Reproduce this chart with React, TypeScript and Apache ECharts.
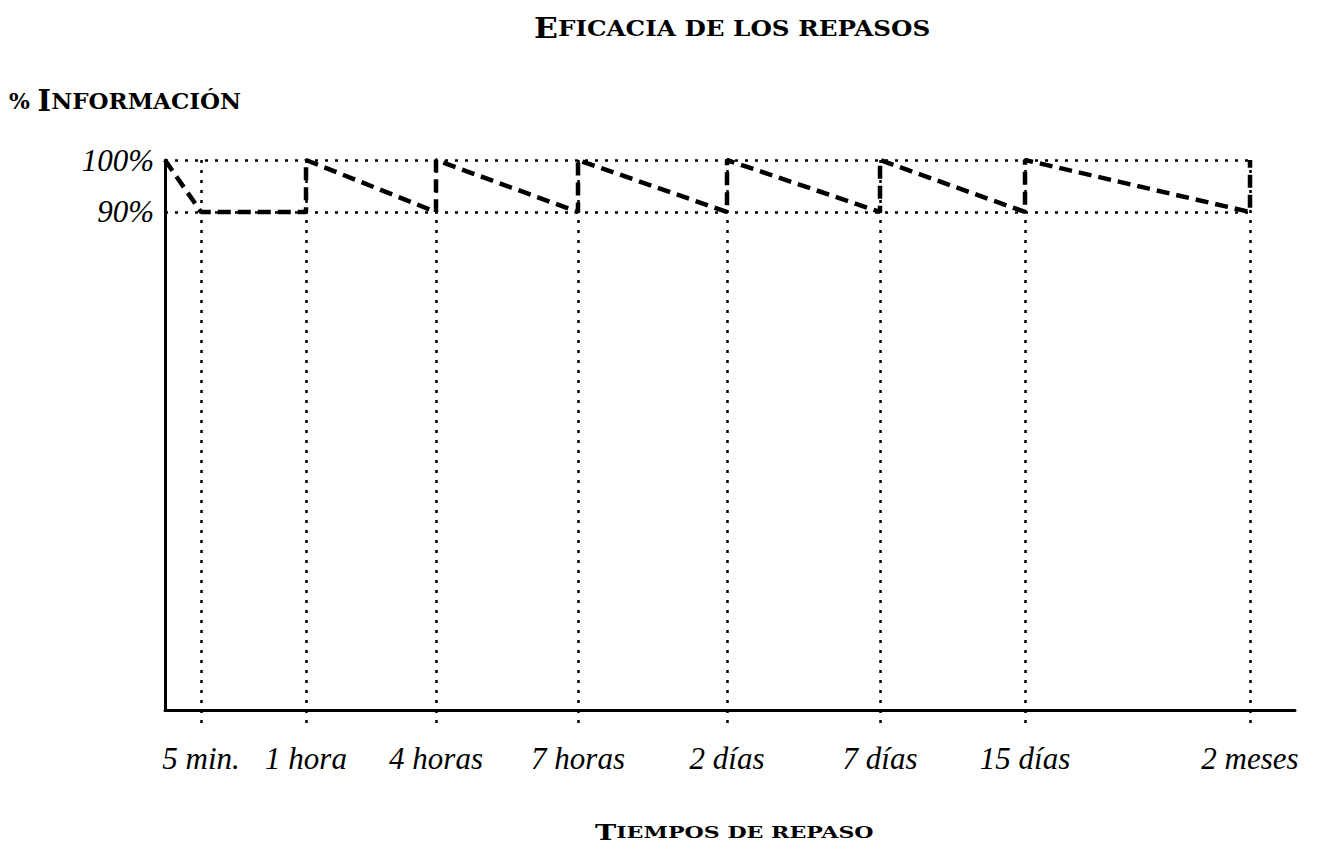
import React, { useEffect, useRef } from "react";
import * as echarts from "echarts";

// ---- data ----
const timeLabels = ["5 min.", "1 hora", "4 horas", "7 horas", "2 días", "7 días", "15 días", "2 meses"];
// schematic (non-uniform) positions of each review moment on the time axis
const timePositions = [36, 141, 271, 413, 562, 715, 860, 1085];
const axisMaxTime = 1130;
const initialRetention = 100;
// % information retained just before each review and right after it
const retentionBefore = [90, 90, 90, 90, 90, 90, 90, 90];
const retentionAfter = [90, 100, 100, 100, 100, 100, 100, 100];
const yTickValues = [90, 100];
const yMin = -5.8;
const yMax = 100;

const ITALIC = "'Liberation Serif', 'Times New Roman', serif";
const CAPS = "'DejaVu Serif', 'Liberation Serif', serif";

export default function App() {
  const ref = useRef<HTMLDivElement>(null);

  useEffect(() => {
    if (!ref.current) return;
    const chart = echarts.init(ref.current, undefined, { renderer: "svg" });

    const curve: number[][] = [[0, initialRetention]];
    timePositions.forEach((p, i) => {
      curve.push([p, retentionBefore[i]]);
      if (retentionAfter[i] !== retentionBefore[i]) curve.push([p, retentionAfter[i]]);
    });
    const lastPos = timePositions[timePositions.length - 1];

    const dotted = { color: "#000", width: 2.5, type: [3, 7] as any };

    const verticals = timePositions.map((p) => [
      { coord: [p, yMax] },
      { coord: [p, yMin] },
    ]);
    const horizontals = yTickValues.map((v) => [
      { coord: [0, v] },
      { coord: [lastPos, v] },
    ]);

    const labelFor = (v: number) => {
      const i = timePositions.indexOf(v);
      return i >= 0 ? timeLabels[i] : "";
    };

    chart.setOption({
      animation: false,
      backgroundColor: "#fff",
      grid: { left: 165, right: 40, top: 160, bottom: 142, containLabel: false },
      xAxis: {
        type: "value",
        min: 0,
        max: axisMaxTime,
        axisLine: { show: true, onZero: false, lineStyle: { color: "#000", width: 3 } },
        axisTick: {
          show: true,
          customValues: timePositions,
          length: 18,
          inside: false,
          lineStyle: dotted,
        },
        axisLabel: {
          show: true,
          customValues: timePositions,
          formatter: (v: number) => labelFor(v),
          fontFamily: ITALIC,
          fontStyle: "italic",
          fontSize: 31,
          color: "#000",
          margin: 33,
          hideOverlap: false,
        },
        splitLine: { show: false },
      },
      yAxis: {
        type: "value",
        min: yMin,
        max: yMax,
        axisLine: { show: true, onZero: false, lineStyle: { color: "#000", width: 3 } },
        axisTick: { show: false },
        axisLabel: {
          show: true,
          customValues: yTickValues,
          formatter: (v: number) => `${v}%`,
          fontFamily: ITALIC,
          fontStyle: "italic",
          fontSize: 31,
          color: "#000",
          margin: 11,
        },
        splitLine: { show: false },
      },
      series: [
        {
          type: "line",
          data: [],
          silent: true,
          z: 1,
          markLine: {
            silent: true,
            symbol: ["none", "none"],
            label: { show: false },
            lineStyle: dotted,
            data: [...verticals, ...horizontals] as any,
          },
        },
        {
          type: "line",
          data: curve,
          showSymbol: false,
          symbol: "none",
          z: 3,
          lineStyle: { color: "#000", width: 4.5, type: [13, 7] as any, cap: "butt" },
        },
      ],
      graphic: [
        {
          type: "text",
          x: 534,
          y: 14,
          scaleX: 1.12,
          style: {
            text: "{a|E}{b|FICACIA DE LOS REPASOS}",
            textVerticalAlign: "top",
            rich: {
              a: { fontFamily: CAPS, fontWeight: "bold", fontSize: 28, fill: "#000" },
              b: { fontFamily: CAPS, fontWeight: "bold", fontSize: 22, fill: "#000" },
            } as any,
          } as any,
        },
        {
          type: "text",
          x: 9,
          y: 86,
          scaleX: 1.0,
          style: {
            text: "{p|% }{a|I}{b|NFORMACIÓN}",
            textVerticalAlign: "top",
            rich: {
              p: { fontFamily: CAPS, fontWeight: "bold", fontSize: 22, fill: "#000" },
              a: { fontFamily: CAPS, fontWeight: "bold", fontSize: 29, fill: "#000" },
              b: { fontFamily: CAPS, fontWeight: "bold", fontSize: 23, fill: "#000" },
            } as any,
          } as any,
        },
        {
          type: "text",
          x: 595,
          y: 821,
          scaleX: 1.3,
          style: {
            text: "{a|T}{b|IEMPOS DE REPASO}",
            textVerticalAlign: "top",
            rich: {
              a: { fontFamily: CAPS, fontWeight: "bold", fontSize: 22, fill: "#000" },
              b: { fontFamily: CAPS, fontWeight: "bold", fontSize: 17, fill: "#000" },
            } as any,
          } as any,
        },
      ],
    });

    return () => chart.dispose();
  }, []);

  return (
    <div
      ref={ref}
      style={{ position: "fixed", left: 0, top: 0, width: 1335, height: 852, background: "#fff" }}
    />
  );
}
